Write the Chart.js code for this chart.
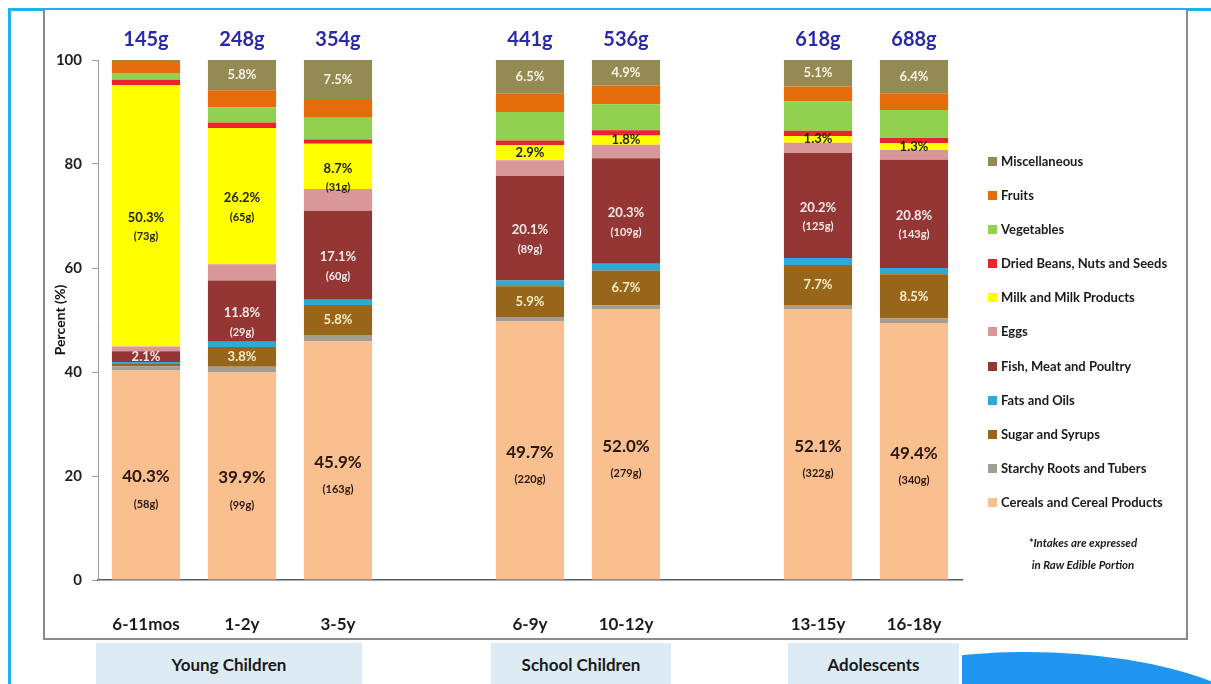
<!DOCTYPE html>
<html>
<head>
<meta charset="utf-8">
<script src="https://cdn.jsdelivr.net/npm/chart.js"></script>
<style>
  body { margin: 0; background: #fff; font-family: Lato, "Open Sans", sans-serif; }
  #wrap { position: relative; width: 1211px; height: 684px; overflow: hidden; }
  .outer { position: absolute; left: 8px; top: 8px; width: 1220px; height: 700px; border-left: 3px solid #1DB2EC; border-top: 3px solid #1DB2EC; }
  .frame { position: absolute; left: 43px; top: 10px; width: 1141px; height: 628px; border: 2px solid #858b96; border-top: none; background: #fff; }
  .group { position: absolute; top: 643px; height: 45px; background: #DDEBF5; font: bold 17px Lato, sans-serif; color: #1a1a1a; text-align: center; line-height: 44px; }
  .blob { position: absolute; left: 962px; top: 648px; width: 260px; height: 40px; overflow: hidden; }
  .blob div { position: absolute; left: -195px; top: 4px; width: 520px; height: 200px; border-radius: 50%; background: #2196F0; }
  canvas { position: absolute; left: 0; top: 0; }
  #legend { position: absolute; left: 988px; top: 144px; font: bold 13px Lato, sans-serif; color: #1a1a1a; }
  #legend .row { height: 34.1px; line-height: 34px; white-space: nowrap; }
  #legend .box { display: inline-block; width: 9px; height: 9px; margin-right: 4px; vertical-align: 0px; }
  #note { position: absolute; left: 1000px; top: 532px; width: 166px; text-align: center; font: italic bold 11.5px Lato, sans-serif; color: #1a1a1a; line-height: 22px; }
</style>
</head>
<body>
<div id="wrap">
  <div class="outer"></div>
  <div class="frame"></div>
  <div class="group" style="left:96px;width:266px">Young Children</div>
  <div class="group" style="left:491px;width:180px">School Children</div>
  <div class="group" style="left:788px;width:171px">Adolescents</div>
  <div class="blob"><div></div></div>
  <canvas id="chart" width="1211" height="684"></canvas>
  <div id="legend"></div>
  <div id="note">*Intakes are expressed<br>in Raw Edible Portion</div>
</div>
<script>
// age groups (empty slots keep the gaps between the three groups)
const ageGroups = ['6-11mos', '1-2y', '3-5y', '', '6-9y', '10-12y', '', '13-15y', '16-18y'];
const totalIntake = ['145g', '248g', '354g', '', '441g', '536g', '', '618g', '688g'];

// percent of total intake, bottom to top of each bar
const cereals = [40.3, 39.9, 45.9, null, 49.7, 52.0, null, 52.1, 49.4];
const starchy = [0.8, 1.1, 1.2, null, 0.9, 0.8, null, 0.8, 0.9];
const sugar   = [0.6, 3.8, 5.8, null, 5.9, 6.7, null, 7.7, 8.5];
const fats    = [0.2, 1.0, 1.0, null, 1.1, 1.3, null, 1.3, 1.2];
const fish    = [2.1, 11.8, 17.1, null, 20.1, 20.3, null, 20.2, 20.8];
const eggs    = [0.9, 3.1, 4.2, null, 3.0, 2.6, null, 2.0, 1.9];
const milk    = [50.3, 26.2, 8.7, null, 2.9, 1.8, null, 1.3, 1.3];
const beans   = [1.0, 1.1, 0.8, null, 0.9, 1.0, null, 1.0, 1.0];
const veg     = [1.3, 2.9, 4.2, null, 5.5, 5.0, null, 5.6, 5.4];
const fruits  = [2.1, 3.3, 3.6, null, 3.5, 3.6, null, 2.9, 3.2];
const misc    = [0.4, 5.8, 7.5, null, 6.5, 4.9, null, 5.1, 6.4];

// text written inside the segments
const cerealsText = ['40.3%|(58g)', '39.9%|(99g)', '45.9%|(163g)', null, '49.7%|(220g)', '52.0%|(279g)', null, '52.1%|(322g)', '49.4%|(340g)'];
const sugarText = [null, '3.8%', '5.8%', null, '5.9%', '6.7%', null, '7.7%', '8.5%'];
const fishText = ['2.1%', '11.8%|(29g)', '17.1%|(60g)', null, '20.1%|(89g)', '20.3%|(109g)', null, '20.2%|(125g)', '20.8%|(143g)'];
const milkText = ['50.3%|(73g)', '26.2%|(65g)', '8.7%|(31g)', null, '2.9%', '1.8%', null, '1.3%', '1.3%'];
const miscText = [null, '5.8%', '7.5%', null, '6.5%', '4.9%', null, '5.1%', '6.4%'];

const series = [
  { name: 'Cereals and Cereal Products', data: cereals, color: '#F9BF8F', text: cerealsText, ink: '#2b170a', big: 17, small: 11, gap: 27 },
  { name: 'Starchy Roots and Tubers', data: starchy, color: '#A39D92' },
  { name: 'Sugar and Syrups', data: sugar, color: '#98661A', text: sugarText, ink: '#f7ecc4', big: 13 },
  { name: 'Fats and Oils', data: fats, color: '#2FA9D6' },
  { name: 'Fish, Meat and Poultry', data: fish, color: '#943634', text: fishText, ink: '#f6e9e9', big: 13, small: 11, gap: 19 },
  { name: 'Eggs', data: eggs, color: '#D9979A' },
  { name: 'Milk and Milk Products', data: milk, color: '#FFFF00', text: milkText, ink: '#222', big: 13, small: 11, gap: 19 },
  { name: 'Dried Beans, Nuts and Seeds', data: beans, color: '#E8252A' },
  { name: 'Vegetables', data: veg, color: '#92D050' },
  { name: 'Fruits', data: fruits, color: '#E46C0A' },
  { name: 'Miscellaneous', data: misc, color: '#948A54', text: miscText, ink: '#f8f3e2', big: 13 }
];

const FONT = 'Lato, "Open Sans", sans-serif';

// labels inside the segments + totals above the bars
const barText = {
  id: 'barText',
  afterDatasetsDraw(chart) {
    const ctx = chart.ctx;
    ctx.save();
    ctx.textAlign = 'center';
    ctx.textBaseline = 'middle';
    series.forEach((s, i) => {
      if (!s.text) return;
      const meta = chart.getDatasetMeta(i);
      meta.data.forEach((bar, j) => {
        const t = s.text[j];
        if (!t) return;
        const cy = (bar.y + bar.base) / 2;
        const parts = t.split('|');
        ctx.fillStyle = s.ink;
        ctx.font = 'bold ' + s.big + 'px ' + FONT;
        ctx.fillText(parts[0], bar.x, cy + (parts.length > 1 ? 2 : 0));
        if (parts[1]) {
          ctx.font = 'bold ' + s.small + 'px ' + FONT;
          ctx.fillText(parts[1], bar.x, cy + 2 + s.gap);
        }
      });
    });
    const x = chart.scales.x, y = chart.scales.y;
    ctx.fillStyle = '#2A2AA8';
    ctx.font = 'bold 20px ' + FONT;
    totalIntake.forEach((t, j) => {
      if (t) ctx.fillText(t, x.getPixelForValue(j), y.getPixelForValue(100) - 20);
    });
    ctx.restore();
  }
};

new Chart(document.getElementById('chart'), {
  type: 'bar',
  data: {
    labels: ageGroups,
    datasets: series.map(s => ({
      label: s.name,
      data: s.data,
      backgroundColor: s.color,
      borderWidth: 0,
      barPercentage: 0.71,
      categoryPercentage: 1
    }))
  },
  options: {
    responsive: false,
    animation: false,
    layout: { padding: { left: 0, top: 60, right: 249, bottom: 0 } },
    plugins: { legend: { display: false }, tooltip: { enabled: false } },
    scales: {
      x: {
        stacked: true,
        grid: { display: false },
        border: { display: true, color: '#555a63', width: 1.5 },
        ticks: { color: '#1a1a1a', font: { family: FONT, size: 17, weight: 'bold' }, padding: 26, maxRotation: 0, autoSkip: false },
        afterFit(scale) { scale.height = 104; }
      },
      y: {
        stacked: true,
        min: 0,
        max: 100,
        grid: { drawOnChartArea: false, drawTicks: true, tickLength: 6, color: '#9a9a9a' },
        border: { display: true, color: '#9a9a9a', width: 1 },
        ticks: { stepSize: 20, color: '#222', font: { family: FONT, size: 15, weight: 'bold' }, padding: 10 },
        title: { display: true, text: 'Percent (%)', color: '#111', font: { family: FONT, size: 14, weight: 'bold' }, padding: { top: 52, bottom: 0 } },
        afterFit(scale) { scale.width = 98; }
      }
    }
  },
  plugins: [barText]
});

// legend, top item first like the stack
const legend = document.getElementById('legend');
series.slice().reverse().forEach(s => {
  const row = document.createElement('div');
  row.className = 'row';
  row.innerHTML = '<span class="box" style="background:' + s.color + '"></span>' + s.name;
  legend.appendChild(row);
});
</script>
</body>
</html>
